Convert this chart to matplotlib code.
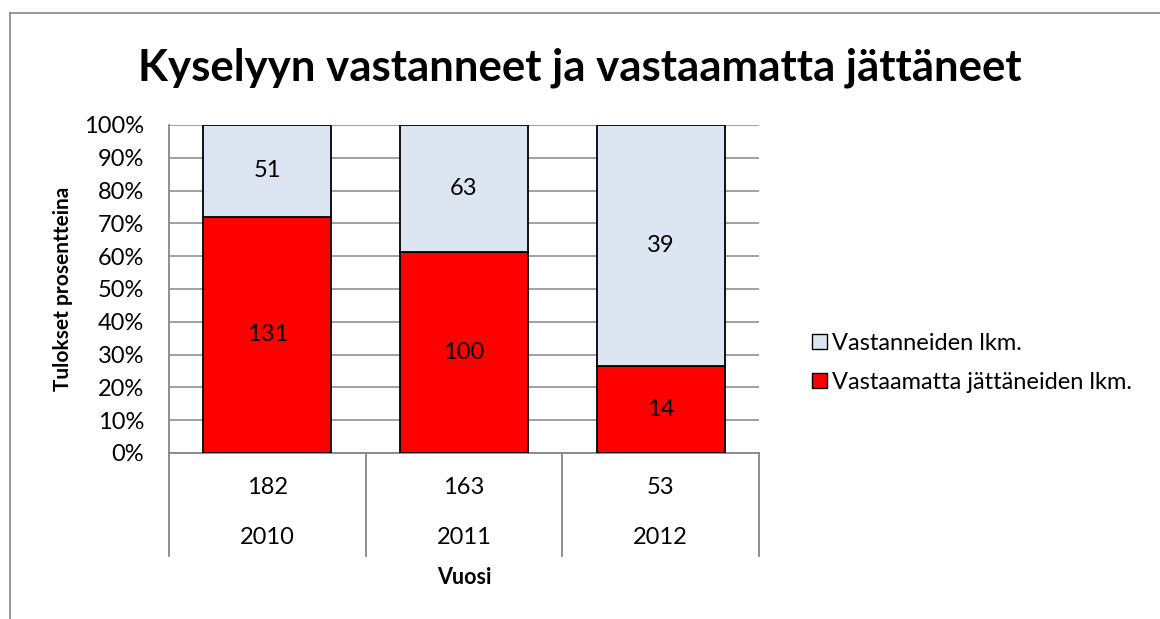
import matplotlib.pyplot as plt
from matplotlib.lines import Line2D
from matplotlib.patches import Patch

plt.rcParams['font.family'] = ['Lato', 'DejaVu Sans']

years = ["2010", "2011", "2012"]
totals = ["182", "163", "53"]
vastaamatta = [131, 100, 14]
vastanneet = [51, 63, 39]

red = "#ff0000"
blue = "#dce6f2"
grey = "#868686"
fs = 17

fig = plt.figure(figsize=(11.6, 6.19), dpi=100)
ax = fig.add_axes([0.1457, 0.2682, 0.5086, 0.5299])

x = list(range(len(years)))
sums = [a + b for a, b in zip(vastaamatta, vastanneet)]
p_red = [a / s * 100 for a, s in zip(vastaamatta, sums)]
p_blue = [b / s * 100 for b, s in zip(vastanneet, sums)]

ax.bar(x, p_red, width=0.65, color=red, edgecolor="black", linewidth=1.3, zorder=3)
ax.bar(x, p_blue, width=0.65, bottom=p_red, color=blue, edgecolor="black", linewidth=1.3, zorder=3)

for i in x:
    ax.text(i, p_red[i] / 2, str(vastaamatta[i]), ha="center", va="center", fontsize=fs, zorder=4)
    ax.text(i, p_red[i] + p_blue[i] / 2, str(vastanneet[i]), ha="center", va="center", fontsize=fs, zorder=4)

ax.set_xlim(-0.5, 2.5)
ax.set_ylim(0, 100)
ax.set_yticks(range(0, 101, 10))
ax.set_yticklabels([f"{v}%" for v in range(0, 101, 10)], fontsize=fs)
ax.tick_params(axis="y", length=0, pad=18)
ax.set_xticks([])
ax.grid(axis="y", color=grey, linewidth=1.1, zorder=0)

for s in ["top", "right"]:
    ax.spines[s].set_visible(False)
for s in ["left", "bottom"]:
    ax.spines[s].set_color(grey)
    ax.spines[s].set_linewidth(1.3)

# multi-level category axis
tr = ax.get_xaxis_transform()
for b in [-0.5, 0.5, 1.5, 2.5]:
    ax.plot([b, b], [0, -0.313], transform=tr, color=grey, linewidth=1.3, clip_on=False)
for i in x:
    ax.text(i, -0.104, totals[i], transform=tr, ha="center", va="center", fontsize=fs)
    ax.text(i, -0.259, years[i], transform=tr, ha="center", va="center", fontsize=fs)
ax.text(1, -0.381, "Vuosi", transform=tr, ha="center", va="center", fontsize=15.5, fontweight="bold")

fig.text(0.054, 0.533, "Tulokset prosentteina", rotation=90, ha="center", va="center",
         fontsize=15, fontweight="bold")

fig.text(0.5, 0.89, "Kyselyyn vastanneet ja vastaamatta jättäneet", ha="center", va="center",
         fontsize=31.5, fontweight="bold")

handles = [Patch(facecolor=blue, edgecolor="black", label="Vastanneiden lkm."),
           Patch(facecolor=red, edgecolor="black", label="Vastaamatta jättäneiden lkm.")]
fig.legend(handles=handles, loc="center left", bbox_to_anchor=(0.682, 0.414), frameon=False,
           fontsize=fs, handlelength=0.6, handleheight=0.6, handletextpad=0.25, labelspacing=0.75)

# outer chart frame
fig.add_artist(Line2D([0.0086, 1.0], [0.979, 0.979], color=grey, linewidth=1.2))
fig.add_artist(Line2D([0.0086, 0.0086], [0.0, 0.979], color=grey, linewidth=1.2))

fig.savefig("out.png", dpi=100)
